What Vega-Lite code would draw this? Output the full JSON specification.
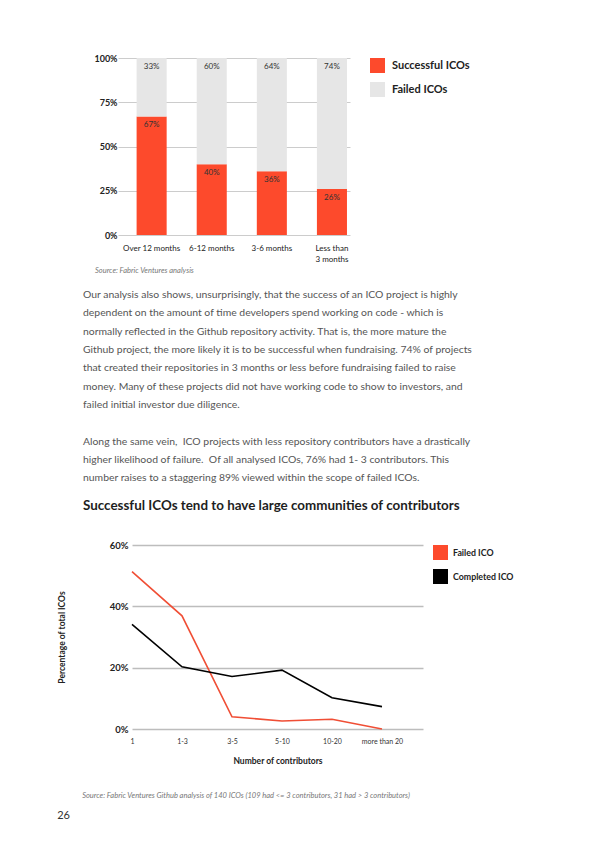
{
  "$schema": "https://vega.github.io/schema/vega-lite/v6.json",
  "background": "white",
  "padding": {"left": 57, "top": 54, "right": 5, "bottom": 5},
  "config": {"view": {"stroke": null}, "font": "Lato"},
  "datasets": {
    "bars": [
      {"period": "Over 12 months", "status": "Successful ICOs", "share": 0.67},
      {"period": "Over 12 months", "status": "Failed ICOs", "share": 0.33},
      {"period": "6-12 months", "status": "Successful ICOs", "share": 0.40},
      {"period": "6-12 months", "status": "Failed ICOs", "share": 0.60},
      {"period": "3-6 months", "status": "Successful ICOs", "share": 0.36},
      {"period": "3-6 months", "status": "Failed ICOs", "share": 0.64},
      {"period": "Less than 3 months", "status": "Successful ICOs", "share": 0.26},
      {"period": "Less than 3 months", "status": "Failed ICOs", "share": 0.74}
    ],
    "lines": [
      {"contributors": "1", "status": "Failed ICO", "share": 0.513},
      {"contributors": "1-3", "status": "Failed ICO", "share": 0.369},
      {"contributors": "3-5", "status": "Failed ICO", "share": 0.040},
      {"contributors": "5-10", "status": "Failed ICO", "share": 0.026},
      {"contributors": "10-20", "status": "Failed ICO", "share": 0.032},
      {"contributors": "more than 20", "status": "Failed ICO", "share": 0.0},
      {"contributors": "1", "status": "Completed ICO", "share": 0.341},
      {"contributors": "1-3", "status": "Completed ICO", "share": 0.203},
      {"contributors": "3-5", "status": "Completed ICO", "share": 0.171},
      {"contributors": "5-10", "status": "Completed ICO", "share": 0.192},
      {"contributors": "10-20", "status": "Completed ICO", "share": 0.102},
      {"contributors": "more than 20", "status": "Completed ICO", "share": 0.073}
    ]
  },
  "title": {"text": "26", "orient": "bottom", "anchor": "start", "frame": "bounds", "fontSize": 11, "fontWeight": "normal", "color": "#333333", "offset": 11},
  "vconcat": [
    {
      "spacing": 15,
      "resolve": {"scale": {"color": "independent"}, "legend": {"color": "independent"}},
      "title": {"text": "Source: Fabric Ventures Github analysis of 140 ICOs (109 had <= 3 contributors, 31 had > 3 contributors)", "orient": "bottom", "anchor": "start", "frame": "bounds", "dx": 25, "fontSize": 7.5, "fontStyle": "italic", "fontWeight": "normal", "color": "#777777", "offset": 27},
      "vconcat": [
        {
          "width": 218,
          "height": 177,
          "data": {"name": "bars"},
          "title": {"text": "Source: Fabric Ventures analysis", "orient": "bottom", "anchor": "start", "frame": "group", "dx": -37, "fontSize": 7.5, "fontStyle": "italic", "fontWeight": "normal", "color": "#777777", "offset": 4},
          "transform": [
            {"stack": "share", "groupby": ["period"], "sort": [{"field": "status", "order": "descending"}], "as": ["s0", "s1"]}
          ],
          "encoding": {
            "x": {
              "field": "period", "type": "nominal", "sort": null, "title": null,
              "scale": {"range": [-14, 218], "paddingInner": 0.5, "paddingOuter": 0.18, "align": 0.86},
              "axis": {"domain": false, "ticks": false, "grid": false, "labelAngle": 0, "labelPadding": 9, "labelFontSize": 8, "labelColor": "#222222", "labelLineHeight": 11,
                "labelExpr": "datum.value == 'Less than 3 months' ? ['Less than', '3 months'] : datum.value"}
            }
          },
          "layer": [
            {
              "mark": {"type": "bar"},
              "encoding": {
                "y": {"field": "s1", "type": "quantitative", "title": null, "scale": {"domain": [0, 1]},
                  "axis": {"values": [0, 0.25, 0.5, 0.75, 1], "format": ".0%", "domain": false, "ticks": false, "labelPadding": 15, "labelFontSize": 9, "labelFontWeight": "bold", "labelColor": "#222222", "gridColor": "#cccccc", "gridWidth": 1}},
                "y2": {"field": "s0"},
                "color": {"field": "status", "type": "nominal",
                  "scale": {"domain": ["Successful ICOs", "Failed ICOs"], "range": ["#fd4a2c", "#e6e6e6"]},
                  "legend": {"title": null, "orient": "right", "offset": 20, "padding": 0, "symbolType": "square", "symbolSize": 225, "symbolStrokeWidth": 0, "labelFontSize": 11, "labelFontWeight": "bold", "labelColor": "#222222", "labelOffset": 7, "rowPadding": 9}}
              }
            },
            {
              "mark": {"type": "text", "dy": 9, "fontSize": 8, "color": "#333333"},
              "encoding": {
                "y": {"field": "s1", "type": "quantitative"},
                "text": {"field": "share", "type": "quantitative", "format": ".0%"}
              }
            }
          ]
        },
        {
          "width": 291,
          "height": 184,
          "data": {"name": "lines"},
          "title": {
            "text": [
              "Our analysis also shows, unsurprisingly, that the success of an ICO project is highly",
              "dependent on the amount of time developers spend working on code - which is",
              "normally reflected in the Github repository activity. That is, the more mature the",
              "Github project, the more likely it is to be successful when fundraising. 74% of projects",
              "that created their repositories in 3 months or less before fundraising failed to raise",
              "money. Many of these projects did not have working code to show to investors, and",
              "failed initial investor due diligence.",
              "\u2800",
              "Along the same vein,\u00a0 ICO projects with less repository contributors have a drastically",
              "higher likelihood of failure.\u00a0 Of all analysed ICOs, 76% had 1- 3 contributors. This",
              "number raises to a staggering 89% viewed within the scope of failed ICOs."
            ],
            "subtitle": "Successful ICOs tend to have large communities of contributors",
            "anchor": "start", "frame": "group", "dx": -49,
            "fontSize": 10.4, "fontWeight": "normal", "color": "#555555", "lineHeight": 18.3,
            "subtitleFontSize": 13.4, "subtitleFontWeight": "bold", "subtitleColor": "#1e1e1e", "subtitlePadding": 15,
            "offset": 28
          },
          "mark": {"type": "line", "strokeWidth": 1.6},
          "encoding": {
            "x": {"field": "contributors", "type": "ordinal", "sort": null, "title": "Number of contributors",
              "scale": {"type": "point", "padding": 0.41, "align": 0},
              "axis": {"labelAngle": 0, "domain": false, "ticks": false, "grid": false, "labelFontSize": 7, "labelColor": "#333333", "labelPadding": 8,
                "titleFontSize": 8.5, "titleFontWeight": "bold", "titleColor": "#222222", "titlePadding": 12}},
            "y": {"field": "share", "type": "quantitative", "title": "Percentage of total ICOs", "scale": {"domain": [0, 0.6]},
              "axis": {"values": [0, 0.2, 0.4, 0.6], "format": ".0%", "domain": false, "ticks": false, "labelPadding": 4, "labelFontSize": 9.5, "labelFontWeight": "bold", "labelColor": "#222222",
                "gridColor": "#bdbdbd", "gridWidth": 1.3, "titleFontSize": 8.5, "titleFontWeight": "bold", "titleColor": "#222222", "titlePadding": 43}},
            "color": {"field": "status", "type": "nominal",
              "scale": {"domain": ["Failed ICO", "Completed ICO"], "range": ["#f04e35", "#000000"]},
              "legend": {"title": null, "orient": "right", "offset": 10, "padding": 0, "symbolType": "square", "symbolSize": 225, "symbolStrokeWidth": 0, "labelFontSize": 8.8, "labelFontWeight": "bold", "labelColor": "#222222", "labelOffset": 5, "rowPadding": 9,
                "encode": {"symbols": {"update": {"fill": {"signal": "datum.value === 'Failed ICO' ? '#fd4a2c' : '#000000'"}, "stroke": {"value": "transparent"}}}}}}
          }
        }
      ]
    }
  ]
}
